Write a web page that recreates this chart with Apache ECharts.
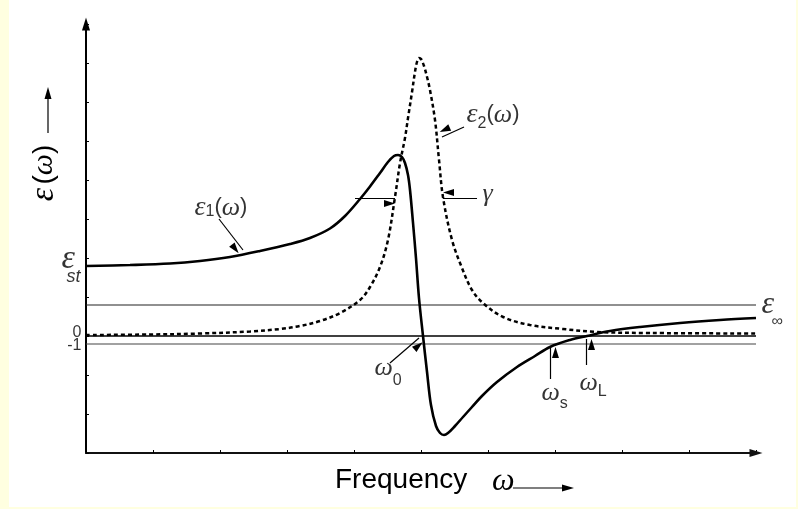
<!DOCTYPE html>
<html>
<head>
<meta charset="utf-8">
<script src="https://cdn.jsdelivr.net/npm/echarts@6/dist/echarts.min.js"></script>
<style>
html, body { margin: 0; padding: 0; background: #ffffe0; }
#paper { position: absolute; left: 9px; top: 0; width: 787px; height: 507px; background: #fff; }
#main { position: absolute; left: 0; top: 0; width: 798px; height: 509px; }
</style>
</head>
<body>
<div id="paper"></div>
<div id="main"></div>
<script>
// eps1(omega), solid curve
const omega1 = [0, 0.657, 1.254, 1.701, 2.149, 2.597, 3.045, 3.343, 3.642, 3.866, 4.09, 4.239, 4.388, 4.507,
  4.597, 4.657, 4.716, 4.761, 4.806, 4.836, 4.881, 4.925, 4.97, 5.03, 5.09, 5.149, 5.224, 5.284, 5.343, 5.403,
  5.507, 5.627, 5.761, 5.91, 6.134, 6.433, 6.701, 6.925, 7.224, 7.478, 7.821, 8.269, 8.866, 9.463, 10.0];
const eps1 = [8.75, 8.875, 9.0625, 9.375, 9.875, 10.625, 11.5, 12.25, 13.4375, 15.0, 17.125, 18.6875, 20.375, 21.75,
  22.5, 22.625, 22.375, 21.625, 20.125, 18.25, 14.125, 9.75, 4.75, 0, -4.5, -8.625, -11.25, -12.125, -12.375, -12.125,
  -11.25, -10.125, -8.875, -7.5, -5.75, -3.875, -2.5, -1.375, -0.5, 0, 0.625, 1.125, 1.625, 2.0, 2.25];

// eps2(omega), dashed curve
const omega2 = [0, 0.955, 1.701, 2.448, 2.896, 3.194, 3.493, 3.791, 4.09, 4.239, 4.388, 4.507, 4.612, 4.687,
  4.761, 4.806, 4.866, 4.91, 4.94, 4.97, 5.0, 5.045, 5.09, 5.134, 5.209, 5.269, 5.328, 5.463, 5.612, 5.761,
  5.925, 6.224, 6.627, 7.119, 7.627, 8.418, 10.0];
const eps2 = [0.125, 0.1875, 0.3125, 0.5625, 0.875, 1.25, 1.875, 2.875, 4.5, 6.125, 8.625, 12.0, 17.375, 21.625,
  24.75, 27.25, 30.5, 33.0, 34.25, 34.75, 34.625, 33.75, 32.375, 30.75, 27.0, 22.0, 17.375, 12.0, 8.5, 5.75,
  4.125, 2.375, 1.375, 0.875, 0.5, 0.375, 0.3125];

const epsInf = 3.875;
const epsSt = 8.75;
const levels = [epsInf, 0, -1];

// annotation arrows [from, to] in data units
const arrows = [
  [[1.985, 14.625], [2.343, 10.75]],
  [[5.642, 26.125], [5.313, 24.875]],
  [[4.015, 17.25], [4.612, 17.25]],
  [[5.836, 17.25], [5.328, 17.25]],
  [[4.537, -3.375], [4.970, -0.25]],
  [[6.925, -5.375], [6.925, -1.375]],
  [[7.463, -3.625], [7.463, -0.375]]
];

const SERIF = '"Liberation Serif", "DejaVu Serif", serif';
const SANS = '"Liberation Sans", Arial, sans-serif';

// rich text with subscripts; anchor = baseline-left of the main glyph
function math(parts, base) {
  const rich = {};
  let text = '';
  parts.forEach(function (p, i) {
    const t = p[0], kind = p[1], size = p[2], drop = p[3] || 0;
    const key = 't' + i;
    const mid = kind === 'g'
      ? 0.84 * base + drop - 0.34 * size + 3
      : 0.84 * base + drop - 0.35 * size;
    rich[key] = {
      fontFamily: kind === 'g' ? SERIF : SANS,
      fontStyle: (kind === 'g' || kind === 'si') ? 'italic' : 'normal',
      fontSize: size,
      color: '#000',
      verticalAlign: 'top',
      height: 2 * mid
    };
    text += '{' + key + '|' + t + '}';
  });
  return { text: text, rich: rich };
}

const notes = [
  { at: [1.627, 15.125], base: 28, parts: [['ε', 'g', 28], ['1', 's', 16, 3], ['(', 'r', 22], ['ω', 'g', 26], [')', 'r', 22]] },
  { at: [5.687, 26.75], base: 28, parts: [['ε', 'g', 28], ['2', 's', 16, 8], ['(', 'r', 22], ['ω', 'g', 26], [')', 'r', 22]] },
  { at: [5.925, 16.875], base: 26, parts: [['γ', 'g', 26]] },
  { at: [4.313, -4.875], base: 26, parts: [['ω', 'g', 26], ['0', 's', 16, 12]] },
  { at: [6.806, -8.0], base: 26, parts: [['ω', 'g', 26], ['s', 's', 16, 10]] },
  { at: [7.373, -6.75], base: 26, parts: [['ω', 'g', 26], ['L', 's', 16, 8]] },
  { at: [-0.358, 8.5], base: 34, parts: [['ε', 'g', 34]] },
  { at: [-0.284, 6.5], base: 18, parts: [['st', 'si', 18]] },
  { at: [10.09, 2.875], base: 32, parts: [['ε', 'g', 32]] },
  { at: [10.239, 1.0], base: 16, parts: [['∞', 'r', 16]] },
  { at: [-0.06, -0.375], base: 16, parts: [['0', 'r', 16]], right: true },
  { at: [-0.06, -2.0], base: 16, parts: [['-1', 'r', 16]], right: true }
];

const chart = echarts.init(document.getElementById('main'), null, { renderer: 'canvas' });

const levelStyles = [
  { color: '#222', width: 1.2 },
  { color: '#000', width: 1.6 },
  { color: '#444', width: 1.2 }
];

const series = levels.map(function (v, i) {
  return {
    type: 'line',
    data: [[0, v], [10, v]],
    showSymbol: false,
    silent: true,
    lineStyle: levelStyles[i],
    z: 1
  };
});

series.push({
  name: 'eps2',
  type: 'line',
  data: omega2.map(function (x, i) { return [x, eps2[i]]; }),
  showSymbol: false,
  smooth: 0.35,
  lineStyle: { color: '#000', width: 2.5, type: [4, 3] },
  z: 3
});

series.push({
  name: 'eps1',
  type: 'line',
  data: omega1.map(function (x, i) { return [x, eps1[i]]; }),
  showSymbol: false,
  smooth: 0.35,
  lineStyle: { color: '#000', width: 2.6 },
  z: 4,
  markLine: {
    silent: true,
    symbol: ['none', 'triangle'],
    symbolSize: [7, 11],
    symbolOffset: [0, 5.5],
    label: { show: false },
    lineStyle: { color: '#000', width: 1.2, type: 'solid' },
    emphasis: { disabled: true },
    data: arrows.map(function (a) { return [{ coord: a[0] }, { coord: a[1] }]; })
  }
});

series.push({
  name: 'notes',
  type: 'scatter',
  clip: false,
  silent: true,
  symbolSize: 1,
  itemStyle: { color: 'rgba(0,0,0,0)' },
  z: 5,
  data: notes.map(function (n) {
    const m = math(n.parts, n.base);
    return {
      value: n.at,
      label: {
        show: true,
        position: [0, 0],
        align: n.right ? 'right' : 'left',
        verticalAlign: 'top',
        offset: [0, -0.84 * n.base],
        formatter: function () { return m.text; },
        rich: m.rich
      }
    };
  })
});

const option = {
  animation: false,
  backgroundColor: 'transparent',
  grid: { left: 86, right: 42, top: 24, bottom: 56 },
  xAxis: {
    type: 'value',
    min: 0,
    max: 10,
    interval: 1,
    axisLine: {
      onZero: false,
      symbol: ['none', 'triangle'],
      symbolSize: [8, 13],
      lineStyle: { color: '#111', width: 2 }
    },
    axisTick: { inside: true, length: 3, lineStyle: { color: '#000', width: 1 } },
    axisLabel: { show: false },
    splitLine: { show: false }
  },
  yAxis: {
    type: 'value',
    min: -14.625,
    max: 39,
    interval: 4.875,
    axisLine: {
      onZero: false,
      symbol: ['none', 'triangle'],
      symbolSize: [8, 13],
      lineStyle: { color: '#000', width: 2 }
    },
    axisTick: { inside: true, length: 3, lineStyle: { color: '#000', width: 1 } },
    axisLabel: { show: false },
    splitLine: { show: false }
  },
  graphic: [
    // y axis title with arrow
    {
      type: 'text', x: 44, y: 173, rotation: Math.PI / 2,
      style: {
        text: '{e|ε} {p|(}{w|ω}{p|)}',
        align: 'center', verticalAlign: 'middle',
        rich: {
          e: { fontFamily: SERIF, fontStyle: 'italic', fontSize: 34, color: '#000' },
          p: { fontFamily: SANS, fontSize: 28, color: '#000' },
          w: { fontFamily: SERIF, fontStyle: 'italic', fontSize: 30, color: '#000' }
        }
      }
    },
    { type: 'line', shape: { x1: 48, y1: 133, x2: 48, y2: 98 }, style: { stroke: '#000', lineWidth: 1.2 } },
    { type: 'polygon', shape: { points: [[48, 87], [44.5, 99], [51.5, 99]] }, style: { fill: '#000' } },
    // x axis title with arrow
    { type: 'text', x: 335, y: 480, style: { text: 'Frequency', font: '28px ' + SANS, fill: '#000', verticalAlign: 'middle' } },
    { type: 'text', x: 492, y: 482, style: { text: 'ω', font: 'italic 32px ' + SERIF, fill: '#000', verticalAlign: 'middle' } },
    { type: 'line', shape: { x1: 513, y1: 488, x2: 563, y2: 488 }, style: { stroke: '#000', lineWidth: 1.2 } },
    { type: 'polygon', shape: { points: [[574, 488], [562, 484.5], [562, 491.5]] }, style: { fill: '#000' } }
  ],
  series: series
};

chart.setOption(option);
</script>
</body>
</html>
